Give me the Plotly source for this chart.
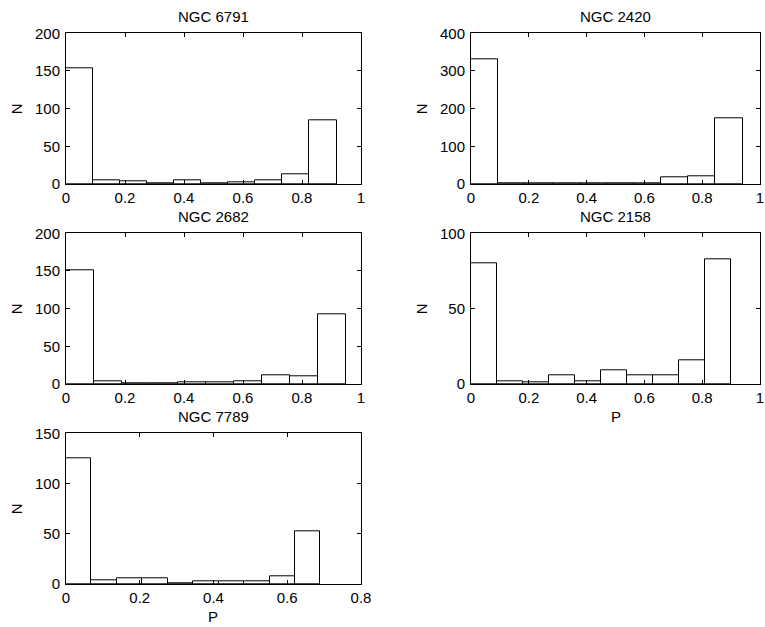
import plotly.graph_objects as go

# Membership-probability histograms (10 bins each) for five open clusters
clusters = ["NGC 6791", "NGC 2420", "NGC 2682", "NGC 2158", "NGC 7789"]

# Upper end of the binned P range for each cluster (bins start at P = 0)
p_max_6791 = 0.917
p_max_2420 = 0.940
p_max_2682 = 0.949
p_max_2158 = 0.900
p_max_7789 = 0.690

counts_6791 = [154, 5, 4, 1, 5, 1, 2, 5, 13, 85]
counts_2420 = [331, 3, 1, 2, 2, 3, 3, 18, 21, 174]
counts_2682 = [151, 3, 1, 1, 2, 2, 3, 11, 10, 93]
counts_2158 = [80, 2, 1, 6, 2, 9, 6, 6, 16, 83]
counts_7789 = [125, 4, 6, 6, 1, 3, 3, 3, 8, 52]

y_max = [200, 400, 200, 100, 150]
y_step = [50, 100, 50, 50, 50]
x_max = [1, 1, 1, 1, 0.8]
x_ticks_full = [0, 0.2, 0.4, 0.6, 0.8, 1]
x_labels_full = ["0", "0.2", "0.4", "0.6", "0.8", "1"]

p_maxes = [p_max_6791, p_max_2420, p_max_2682, p_max_2158, p_max_7789]
counts = [counts_6791, counts_2420, counts_2682, counts_2158, counts_7789]

W, H = 765, 627
# panel boxes in pixels: (left, right, top, bottom)
boxes = [
    (66, 361, 33.3, 184),
    (471, 760, 33.3, 184),
    (66, 361, 233.3, 384),
    (471, 760, 233.3, 384),
    (66, 361, 433.3, 584),
]
show_p_label = [False, False, False, True, True]

FONT = "Liberation Sans, Arial, Helvetica, sans-serif"
FS = 15

fig = go.Figure()
layout = dict(
    width=W, height=H,
    margin=dict(l=0, r=0, t=0, b=0, autoexpand=False),
    paper_bgcolor="white", plot_bgcolor="white",
    showlegend=False,
    font=dict(family=FONT, size=FS, color="black"),
    bargap=0,
)
annotations = []

for i, name in enumerate(clusters):
    n = len(counts[i])
    width = p_maxes[i] / n
    centers = [width * (k + 0.5) for k in range(n)]
    ax = "" if i == 0 else str(i + 1)
    fig.add_trace(go.Bar(
        x=centers, y=counts[i], width=width,
        marker=dict(color="white", line=dict(color="black", width=1)),
        xaxis="x" + ax, yaxis="y" + ax,
        hoverinfo="x+y",
    ))
    l, r, t, b = boxes[i]
    xdom = [l / W, min(r / W, 1.0)]
    ydom = [1 - b / H, 1 - t / H]
    if x_max[i] == 1:
        tv, tt = x_ticks_full, x_labels_full
    else:
        tv, tt = x_ticks_full[:5], x_labels_full[:5]
    yv = list(range(0, y_max[i] + 1, y_step[i]))
    common = dict(
        showline=True, linecolor="black", linewidth=1, mirror="ticks",
        ticks="inside", ticklen=4, tickcolor="black", tickwidth=1,
        showgrid=False, zeroline=False, automargin=False,
        ticklabeloverflow="allow",
        tickfont=dict(family=FONT, size=FS, color="black"),
    )
    layout["xaxis" + ax] = dict(
        domain=xdom, range=[0, x_max[i]], tickvals=tv, ticktext=tt,
        anchor="y" + ax, ticklabelstandoff=0, **common,
    )
    layout["yaxis" + ax] = dict(
        domain=ydom, range=[0, y_max[i]], tickvals=yv,
        ticktext=[str(v) for v in yv],
        anchor="x" + ax, ticklabelstandoff=2, **common,
    )
    dx = "x" + ax + " domain"
    dy = "y" + ax + " domain"
    annotations.append(dict(
        text=name, xref=dx, yref=dy, x=0.5, y=1, xanchor="center",
        yanchor="middle", yshift=16.6, showarrow=False,
        font=dict(family=FONT, size=FS, color="black"),
    ))
    annotations.append(dict(
        text="N", xref=dx, yref=dy, x=0, y=0.5, xanchor="center",
        yanchor="middle", xshift=-49.5, textangle=-90, showarrow=False,
        font=dict(family=FONT, size=FS, color="black"),
    ))
    if show_p_label[i]:
        annotations.append(dict(
            text="P", xref=dx, yref=dy, x=0.5, y=0, xanchor="center",
            yanchor="middle", yshift=-32.7, showarrow=False,
            font=dict(family=FONT, size=FS, color="black"),
        ))

layout["annotations"] = annotations
fig.update_layout(**layout)
fig.write_html("out.html")
